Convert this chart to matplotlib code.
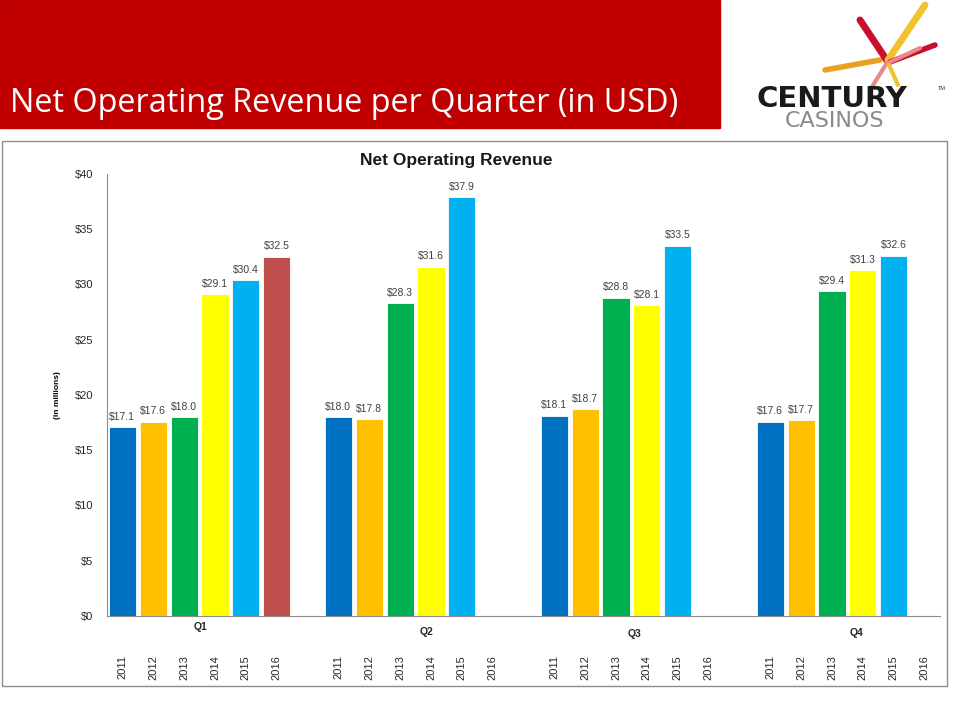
import numpy as np
import matplotlib
matplotlib.use("Agg")
import matplotlib.pyplot as plt
from matplotlib.patches import Rectangle
from matplotlib.lines import Line2D

plt.rcParams['font.family'] = ['Liberation Sans', 'DejaVu Sans']

# data
years = ['2011', '2012', '2013', '2014', '2015', '2016']
quarters = ['Q1', 'Q2', 'Q3', 'Q4']
q1 = [17.1, 17.6, 18.0, 29.1, 30.4, 32.5]
q2 = [18.0, 17.8, 28.3, 31.6, 37.9, None]
q3 = [18.1, 18.7, 28.8, 28.1, 33.5, None]
q4 = [17.6, 17.7, 29.4, 31.3, 32.6, None]
colors = ['#0070C0', '#FFC000', '#00B050', '#FFFF00', '#00B0F0', '#C0504D']

fig = plt.figure(figsize=(9.6, 7.2), dpi=100)

# slide banner
fig.patches.append(Rectangle((0, 1 - 128/720), 720/960, 128/720, transform=fig.transFigure,
                             color='#C00000', zorder=0))
fig.text(10/960, 1 - 103/720, 'Net Operating Revenue per Quarter (in USD)', color='white',
         fontsize=23.3, family='Open Sans', va='center', ha='left')

# logo
strokes = [((825, 70), (880, 60), '#E8A020', 4), ((860, 20), (888, 62), '#C8102E', 5),
           ((888, 60), (925, 5), '#F2C12E', 5), ((890, 62), (935, 45), '#C8102E', 4),
           ((886, 64), (920, 48), '#E88A8A', 3), ((885, 66), (870, 90), '#E88A8A', 3),
           ((889, 65), (898, 85), '#F2C12E', 3)]
for (x0, y0), (x1, y1), c, lw in strokes:
    fig.lines.append(Line2D([x0/960, x1/960], [1 - y0/720, 1 - y1/720], transform=fig.transFigure,
                            color=c, lw=lw, solid_capstyle='round'))
fig.text(832/960, 1 - 107/720, 'CENTURY', fontsize=21, weight='bold', color='#1a1a1a',
         ha='center', va='baseline', family='DejaVu Sans')
fig.text(834/960, 1 - 127/720, 'CASINOS', fontsize=16, color='#8a8a8a',
         ha='center', va='baseline', family='DejaVu Sans')
fig.text(942/960, 1 - 88/720, 'TM', fontsize=4, color='#333333', ha='center', va='center')

# chart border
fig.patches.append(Rectangle((2/960, 1 - 686/720), 945/960, 545/720, transform=fig.transFigure,
                             fill=False, edgecolor='#8c8c8c', lw=1, zorder=0))

ax = fig.add_axes([107/960, 1 - 616/720, 833/960, 442/720])

slot = 7
width = 0.88
for qi, vals in enumerate([q1, q2, q3, q4]):
    for yi, v in enumerate(vals):
        if v is None:
            continue
        x = qi*slot + yi
        ax.bar(x, v, width=width, color=colors[yi], edgecolor='white', linewidth=0.6)
        ax.text(x, v + 0.5, f'${v:.1f}', ha='center', va='bottom', fontsize=7.5, color='#404040')

ax.set_ylim(0, 40)
ax.set_xlim(-0.5, 26.5)
ax.set_yticks(np.arange(0, 41, 5))
ax.set_yticklabels([f'${v}' for v in range(0, 41, 5)], fontsize=8, color='#262626')
ax.tick_params(axis='y', length=0, pad=10)

xt = [qi*slot + yi for qi in range(4) for yi in range(6)]
ax.set_xticks(xt)
ax.set_xticklabels(years*4, rotation=90, fontsize=8, color='#262626')
ax.tick_params(axis='x', length=0, pad=28)

q_pos = [2.53, 9.87, 16.6, 23.8]
q_y = [-1.0, -1.45, -1.6, -1.5]
for q, xp, yp in zip(quarters, q_pos, q_y):
    ax.text(xp, yp, q, ha='center', va='center', fontsize=7.5, weight='bold', color='#262626')

for s in ['top', 'right']:
    ax.spines[s].set_visible(False)
for s in ['left', 'bottom']:
    ax.spines[s].set_color('#8c8c8c')

ax.set_ylabel('(in millions)', fontsize=6, weight='bold', labelpad=10)
fig.text(456/960, 1 - 161/720, 'Net Operating Revenue', fontsize=12.5, weight='bold',
         ha='center', va='center', color='#1a1a1a')

fig.savefig('out.png', dpi=100)
